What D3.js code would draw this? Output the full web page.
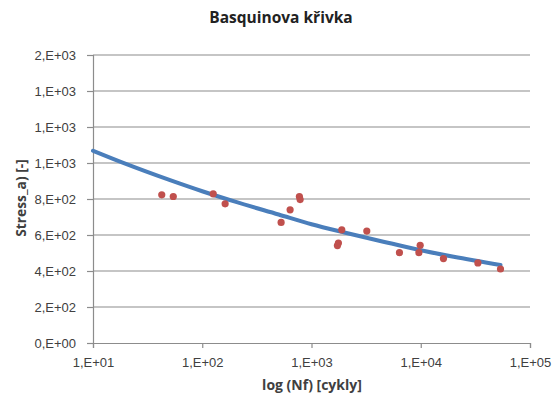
<!DOCTYPE html>
<html>
<head>
<meta charset="utf-8">
<script src="https://cdn.jsdelivr.net/npm/d3@7/dist/d3.min.js"></script>
<style>
  html, body { margin: 0; padding: 0; background: #fff; }
  svg { display: block; font-family: "Open Sans", "Noto Sans", sans-serif; }
</style>
</head>
<body>
<svg id="chart" width="553" height="396"></svg>
<script>
// Measured fatigue life (cycles) and stress amplitude
const cycles = [42.6, 54.3, 126, 162, 527, 637, 775, 787, 1893, 1763, 1727, 3208, 6383, 9616, 9880, 16140, 33340, 53700];
const stress = [823, 814, 829, 773, 670, 740, 814, 797, 629, 555, 541, 622, 502, 502, 543, 469, 445, 411];

// Fitted Basquin curve, sampled along the cycle range
const fitCycles = [10, 20, 50, 100, 200, 500, 1000, 2000, 5000, 10000, 20000, 53700];
const fitStress = [1068, 995, 906, 843, 785, 714, 660, 614, 557, 515, 479, 433];

// Axis ticks and their labels (Excel-style rounded scientific notation)
const xTicks = [10, 100, 1000, 10000, 100000];
const xTickLabels = ["1,E+01", "1,E+02", "1,E+03", "1,E+04", "1,E+05"];
const yTicks = [0, 200, 400, 600, 800, 1000, 1200, 1400, 1600];
const yTickLabels = ["0,E+00", "2,E+02", "4,E+02", "6,E+02", "8,E+02", "1,E+03", "1,E+03", "1,E+03", "2,E+03"];

const svg = d3.select("#chart");
const plot = { left: 93, right: 530, top: 55, bottom: 343 };

const x = d3.scaleLog().domain([10, 100000]).range([plot.left, plot.right]);
const y = d3.scaleLinear().domain([0, 1600]).range([plot.bottom, plot.top]);

const axisColor = "#8c8c8c";
const labelColor = "#404040";

// Horizontal gridlines
svg.append("g")
  .selectAll("line")
  .data(yTicks.slice(1))
  .join("line")
  .attr("x1", plot.left).attr("x2", plot.right)
  .attr("y1", d => y(d)).attr("y2", d => y(d))
  .attr("stroke", axisColor).attr("stroke-width", 1.2);

// Y axis
const yAxis = svg.append("g")
  .attr("transform", `translate(${plot.left},0)`)
  .call(d3.axisLeft(y).tickValues(yTicks).tickSize(6).tickPadding(11)
    .tickFormat((d, i) => yTickLabels[i]));
yAxis.select(".domain").attr("stroke", axisColor).attr("stroke-width", 1.2);
yAxis.selectAll(".tick line").attr("stroke", axisColor).attr("stroke-width", 1.2);
yAxis.selectAll("text").attr("fill", labelColor).attr("font-size", 13);

// X axis
const xAxis = svg.append("g")
  .attr("transform", `translate(0,${plot.bottom})`)
  .call(d3.axisBottom(x).tickValues(xTicks).tickSize(5).tickPadding(10)
    .tickFormat((d, i) => xTickLabels[i]));
xAxis.select(".domain").attr("stroke", axisColor).attr("stroke-width", 1.2);
xAxis.selectAll(".tick line").attr("stroke", axisColor).attr("stroke-width", 1.2);
xAxis.selectAll("text").attr("fill", labelColor).attr("font-size", 13);

// Fitted curve
const fit = fitCycles.map((c, i) => [c, fitStress[i]]);
svg.append("path")
  .datum(fit)
  .attr("fill", "none")
  .attr("stroke", "#4a7ebb")
  .attr("stroke-width", 4)
  .attr("stroke-linecap", "round")
  .attr("d", d3.line().x(d => x(d[0])).y(d => y(d[1])).curve(d3.curveMonotoneX));

// Measured points
svg.append("g")
  .selectAll("circle")
  .data(cycles.map((c, i) => [c, stress[i]]))
  .join("circle")
  .attr("cx", d => x(d[0]))
  .attr("cy", d => y(d[1]))
  .attr("r", 3.6)
  .attr("fill", "#c0504d");

// Titles
svg.append("text")
  .attr("x", 281).attr("y", 23)
  .attr("text-anchor", "middle")
  .attr("font-size", 15.5).attr("font-weight", "bold").attr("fill", "#222")
  .text("Basquinova křivka");

svg.append("text")
  .attr("x", 312).attr("y", 390)
  .attr("text-anchor", "middle")
  .attr("font-size", 14).attr("font-weight", "bold").attr("fill", labelColor)
  .text("log (Nf) [cykly]");

svg.append("text")
  .attr("transform", "translate(26,198) rotate(-90)")
  .attr("text-anchor", "middle")
  .attr("font-size", 13.8).attr("font-weight", "bold").attr("fill", labelColor)
  .text("Stress_a) [-]");
</script>
</body>
</html>
